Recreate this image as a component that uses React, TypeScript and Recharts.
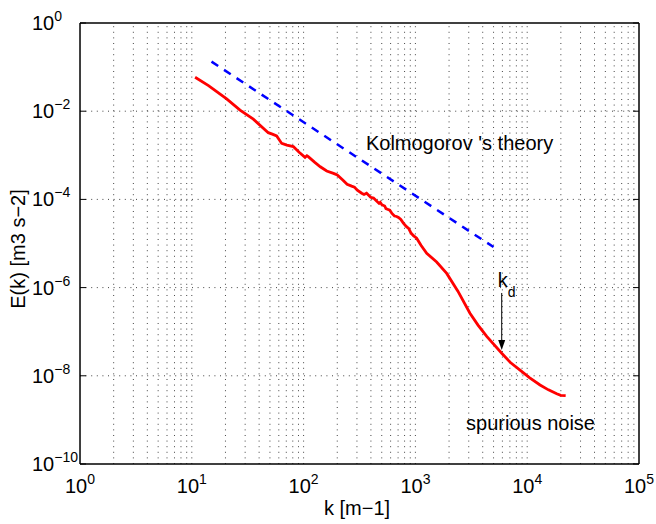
import React from 'react';
import { LineChart, Line, XAxis, YAxis, ReferenceLine, ReferenceDot } from 'recharts';

const FONT = '"Liberation Sans", Arial, Helvetica, sans-serif';

// Measured energy spectrum E(k)
const spectrumK = [
  10.7, 14.1, 20.5, 27.0, 35.5, 48.3, 52.5, 57.4, 60.3, 63.7, 70.8, 80.9, 91.2, 103, 107, 110,
  126, 141, 161, 185, 200, 224, 245, 269, 285, 302, 331, 347, 366, 398, 422, 447, 473, 485, 501,
  531, 545, 562, 590, 617, 650, 679, 705, 741, 780, 832, 870, 912, 960, 1026, 1122, 1262, 1549,
  1905, 2399, 3076, 3631, 4345, 5916, 7079, 8630, 10470, 13030, 15490, 18370, 19950, 22080,
];
const spectrumE = [
  5.87e-2, 3.8e-2, 1.9e-2, 1.06e-2, 6.61e-3, 3.26e-3, 3.02e-3, 2.75e-3, 2.29e-3, 1.86e-3, 1.7e-3,
  1.58e-3, 1.17e-3, 9.0e-4, 9.8e-4, 9.3e-4, 6.9e-4, 5.5e-4, 4.4e-4, 3.9e-4, 3.6e-4, 2.75e-4,
  2.2e-4, 2.0e-4, 1.9e-4, 1.62e-4, 1.38e-4, 1.29e-4, 1.38e-4, 1.12e-4, 1.07e-4, 9.3e-5, 8.1e-5,
  8.6e-5, 7.6e-5, 7.1e-5, 6.2e-5, 6.0e-5, 5.7e-5, 4.8e-5, 4.2e-5, 4.1e-5, 3.9e-5, 3.5e-5, 2.9e-5,
  2.4e-5, 2.2e-5, 1.74e-5, 1.5e-5, 1.32e-5, 9.1e-6, 6.0e-6, 3.8e-6, 2.1e-6, 8.3e-7, 2.63e-7,
  1.41e-7, 7.8e-8, 3.24e-8, 2.0e-8, 1.35e-8, 9.1e-9, 6.2e-9, 4.8e-9, 3.9e-9, 3.6e-9, 3.55e-9,
];

// Kolmogorov -5/3 reference line
const kolmogorovK = [15, 5000];
const kolmogorovE = [0.133, 8.3e-6];

// Axis ticks
const xMajor = [1, 10, 100, 1000, 10000, 100000];
const yMajor = [1e-10, 1e-8, 1e-6, 1e-4, 1e-2, 1];
const xMinor: number[] = [];
for (let d = 0; d < 5; d++) for (let m = 2; m <= 9; m++) xMinor.push(m * Math.pow(10, d));
const xGrid = [...xMinor, 10, 100, 1000, 10000];
const yGrid = [1e-2, 1e-4, 1e-6, 1e-8];

// Annotations
const kolmogorovText = "Kolmogorov 's theory";
const kolmogorovPos = { k: 361, e: 1.32e-3 };
const noiseText = 'spurious noise';
const noisePos = { k: 2837, e: 5.9e-10 };
const kd = 5916;
const kdArrowTop = 7.55e-7;
const kdArrowTip = 3.85e-8;
const kdLabelE = 1.05e-6;

const xTitle = 'k [m\u22121]';
const yTitle = 'E(k) [m3 s\u22122]';

const spectrumData = spectrumK.map((k, i) => ({ k, e: spectrumE[i] }));
const kolmogorovData = kolmogorovK.map((k, i) => ({ k, e: kolmogorovE[i] }));

const expLabel = (v: number) => {
  const ex = Math.round(Math.log10(v));
  return ex < 0 ? '\u2212' + Math.abs(ex) : String(ex);
};

const XTick = (props: any) => {
  const { x, y, payload } = props;
  return (
    <text x={x} y={y + 29} textAnchor="middle" fontFamily={FONT} fill="#000">
      <tspan fontSize={20}>10</tspan>
      <tspan fontSize={14} dy={-9}>{expLabel(payload.value)}</tspan>
    </text>
  );
};

const YTick = (props: any) => {
  const { x, y, payload } = props;
  return (
    <text x={x - 48} y={y + 7} textAnchor="start" fontFamily={FONT} fill="#000">
      <tspan fontSize={20}>10</tspan>
      <tspan fontSize={14} dy={-9}>{expLabel(payload.value)}</tspan>
    </text>
  );
};

const Empty = () => <g />;

const gridStyle = { stroke: '#444', strokeDasharray: '1 4.6', strokeWidth: 1 };
const axisLineStyle = { stroke: '#000', strokeWidth: 1.5 };
const tickLineStyle = { stroke: '#000', strokeWidth: 1 };
const TH = 0.01;

const ArrowShape = (p: any) => {
  const x = p.x1;
  const top = Math.min(p.y1, p.y2);
  const tip = Math.max(p.y1, p.y2);
  return (
    <g>
      <line x1={x} y1={top} x2={x} y2={tip - 6} stroke="#000" strokeWidth={1} />
      <polygon points={`${x - 3.5},${tip - 10} ${x + 3.5},${tip - 10} ${x},${tip}`} fill="#000" />
    </g>
  );
};

export default function App() {
  const logX = { type: 'number' as const, scale: 'log' as const, domain: [1, 100000], allowDataOverflow: true };
  const logY = { type: 'number' as const, scale: 'log' as const, domain: [1e-10, 1], allowDataOverflow: true };
  return (
    <div style={{ position: 'absolute', left: 0, top: 0, width: 656, height: 524, background: '#fff' }}>
      <LineChart width={656} height={524} margin={{ top: 23, right: 17, bottom: 60, left: 80 }}>
        {/* tick-only mirror axes */}
        <XAxis xAxisId="xtM" orientation="top" mirror height={TH} {...logX} ticks={xMajor} interval={0} tick={Empty} tickSize={6} tickLine={tickLineStyle} axisLine={axisLineStyle} />
        <XAxis xAxisId="xtm" orientation="top" mirror height={TH} {...logX} ticks={xMinor} interval={0} tick={Empty} tickSize={3} tickLine={tickLineStyle} axisLine={false} />
        <XAxis xAxisId="xbM" orientation="bottom" mirror height={TH} {...logX} ticks={xMajor} interval={0} tick={Empty} tickSize={6} tickLine={tickLineStyle} axisLine={false} />
        <XAxis xAxisId="xbm" orientation="bottom" mirror height={TH} {...logX} ticks={xMinor} interval={0} tick={Empty} tickSize={3} tickLine={tickLineStyle} axisLine={false} />
        <YAxis yAxisId="ylM" orientation="left" mirror width={TH} {...logY} ticks={yMajor} interval={0} tick={Empty} tickSize={6} tickLine={tickLineStyle} axisLine={false} />
        <YAxis yAxisId="yrM" orientation="right" mirror width={TH} {...logY} ticks={yMajor} interval={0} tick={Empty} tickSize={6} tickLine={tickLineStyle} axisLine={axisLineStyle} />
        {/* main axes */}
        <XAxis xAxisId="x" dataKey="k" orientation="bottom" height={TH} {...logX} ticks={xMajor} interval={0} tick={XTick} tickSize={0} tickMargin={0} tickLine={false} axisLine={axisLineStyle} />
        <YAxis yAxisId="y" dataKey="e" orientation="left" width={TH} {...logY} ticks={yMajor} interval={0} tick={YTick} tickSize={0} tickMargin={0} tickLine={false} axisLine={axisLineStyle} />

        {xGrid.map((v) => (
          <ReferenceLine key={'gx' + v} xAxisId="x" yAxisId="y" x={v} {...gridStyle} />
        ))}
        {yGrid.map((v) => (
          <ReferenceLine key={'gy' + v} xAxisId="x" yAxisId="y" y={v} {...gridStyle} />
        ))}

        <Line xAxisId="x" yAxisId="y" data={kolmogorovData} dataKey="e" type="linear" stroke="#0000ff" strokeWidth={2.5} strokeDasharray="8 7" dot={false} isAnimationActive={false} />
        <Line xAxisId="x" yAxisId="y" data={spectrumData} dataKey="e" type="linear" stroke="#ff0000" strokeWidth={2.8} dot={false} isAnimationActive={false} />

        <ReferenceLine xAxisId="x" yAxisId="y" segment={[{ x: kd, y: kdArrowTop }, { x: kd, y: kdArrowTip }]} shape={ArrowShape} />
        <ReferenceDot xAxisId="x" yAxisId="y" x={kd} y={kdLabelE} r={0} shape={(p: any) => (
          <text x={p.cx - 4} y={p.cy} fontFamily={FONT} fill="#000">
            <tspan fontSize={20}>k</tspan>
            <tspan fontSize={14} dy={10}>d</tspan>
          </text>
        )} />
        <ReferenceDot xAxisId="x" yAxisId="y" x={kolmogorovPos.k} y={kolmogorovPos.e} r={0} shape={(p: any) => (
          <text x={p.cx} y={p.cy} fontFamily={FONT} fontSize={20} fill="#000">{kolmogorovText}</text>
        )} />
        <ReferenceDot xAxisId="x" yAxisId="y" x={noisePos.k} y={noisePos.e} r={0} shape={(p: any) => (
          <text x={p.cx} y={p.cy} fontFamily={FONT} fontSize={20} fill="#000">{noiseText}</text>
        )} />
      </LineChart>
      <svg width={656} height={524} style={{ position: 'absolute', left: 0, top: 0, pointerEvents: 'none' }}>
        <text x={357} y={515} textAnchor="middle" fontFamily={FONT} fontSize={20} fill="#000">{xTitle}</text>
        <text x={25} y={249} textAnchor="middle" fontFamily={FONT} fontSize={20} fill="#000" transform="rotate(-90 25 249)">{yTitle}</text>
      </svg>
    </div>
  );
}
